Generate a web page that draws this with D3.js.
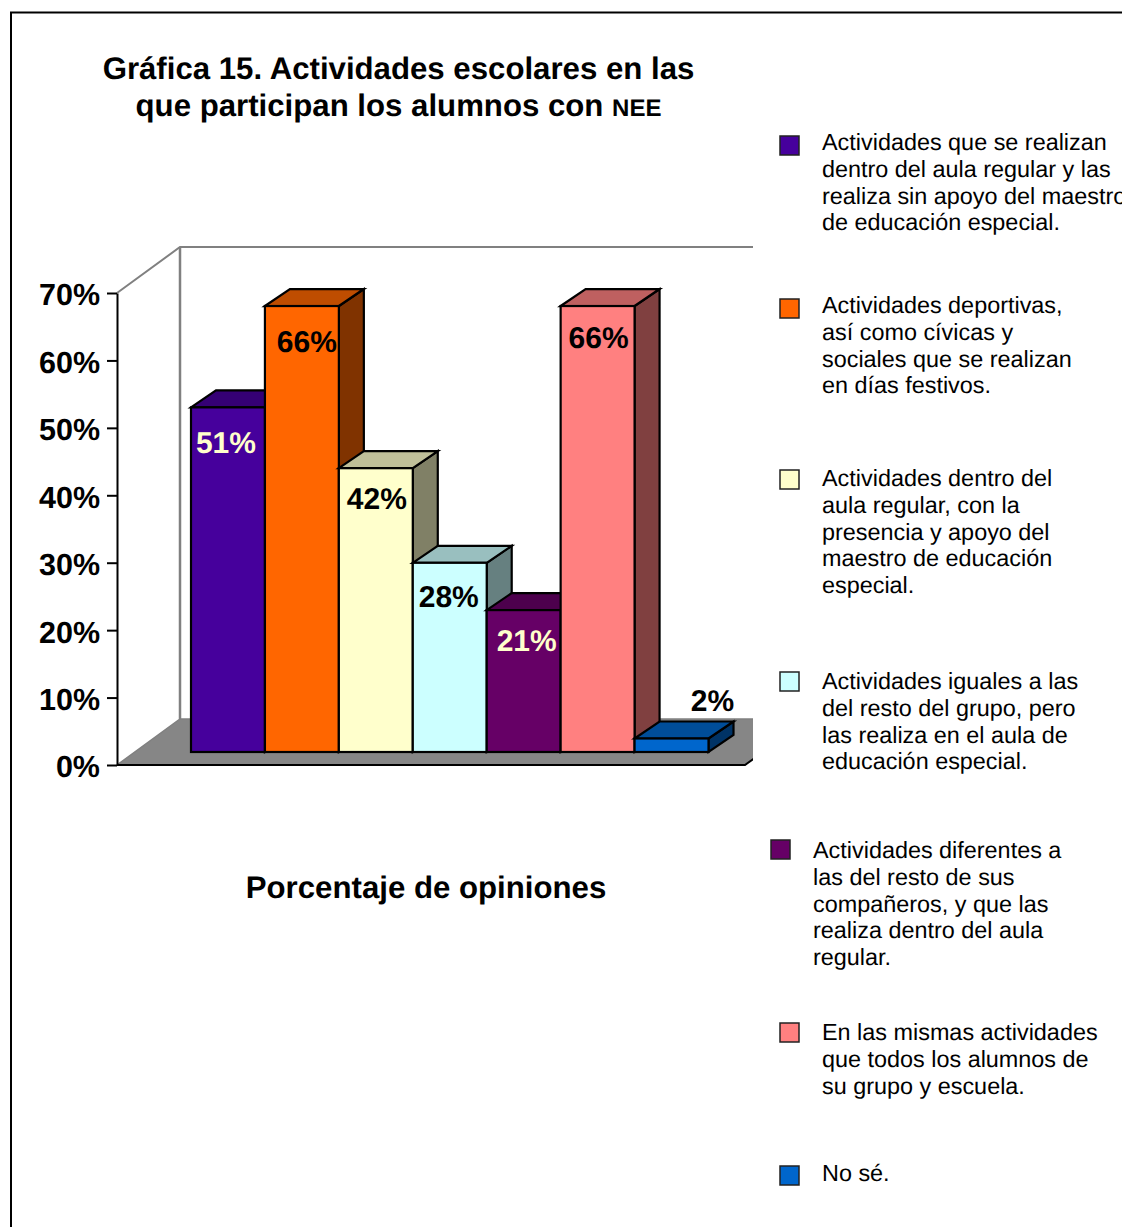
<!DOCTYPE html>
<html lang="es">
<head>
<meta charset="utf-8">
<title>Gráfica 15</title>
<script src="https://cdn.jsdelivr.net/npm/d3@7/dist/d3.min.js"></script>
<style>
html, body { margin: 0; padding: 0; background: #fff; overflow: hidden; }
svg { display: block; font-family: "Liberation Sans", Arial, sans-serif; text-rendering: geometricPrecision; }
</style>
</head>
<body>
<svg id="chart" width="1122" height="1227"></svg>
<script>
// Series
const categories = [
  "Actividades que se realizan dentro del aula regular y las realiza sin apoyo del maestro de educación especial.",
  "Actividades deportivas, así como cívicas y sociales que se realizan en días festivos.",
  "Actividades dentro del aula regular, con la presencia y apoyo del maestro de educación especial.",
  "Actividades iguales a las del resto del grupo, pero las realiza en el aula de educación especial.",
  "Actividades diferentes a las del resto de sus compañeros, y que las realiza dentro del aula regular.",
  "En las mismas actividades que todos los alumnos de su grupo y escuela.",
  "No sé."
];
const values = [51, 66, 42, 28, 21, 66, 2];
const barColors = ["#46009c", "#ff6600", "#ffffcc", "#ccffff", "#660066", "#ff8080", "#0066cc"];
const labelColors = ["#ffffcc", "#000", "#000", "#000", "#ffffcc", "#000", "#000"];
const axisTicks = [0, 10, 20, 30, 40, 50, 60, 70];

// Wrapped legend text, one list of lines per category
const legendLines = [
  ["Actividades que se realizan", "dentro del aula regular y las", "realiza sin apoyo del maestro", "de educación especial."],
  ["Actividades deportivas,", "así como cívicas y", "sociales que se realizan", "en días festivos."],
  ["Actividades dentro del", "aula regular, con la", "presencia y apoyo del", "maestro de educación", "especial."],
  ["Actividades iguales a las", "del resto del grupo, pero", "las realiza en el aula de", "educación especial."],
  ["Actividades diferentes a", "las del resto de sus", "compañeros, y que las", "realiza dentro del aula", "regular."],
  ["En las mismas actividades", "que todos los alumnos de", "su grupo y escuela."],
  ["No sé."]
];

// Layout
const legendX = [780, 780, 780, 780, 771, 780, 780];
const legendTop = [136, 299, 470, 672, 840, 1023, 1166];
const legendBaseline = [150, 313, 486, 689, 858, 1040, 1181];
const labelDx = [-2, 5, 1, -1, 3, 1, 41];
const labelDy = [46, 46, 41, 44, 41, 42, -27];
const depth = { wallX: 63, wallY: -46, barX: 25, barY: -17 };
const plot = { left: 117, right: 753, floor: 765, top: 293, barBase: 752, barSpan: 473 };

const svg = d3.select("#chart");

// Page frame, open on the right and bottom edges
svg.append("path")
  .attr("d", d3.line()([[11, 1227], [11, 12.5], [1122, 12.5]]))
  .attr("fill", "none").attr("stroke", "#000").attr("stroke-width", 2);

const y = d3.scaleLinear().domain([0, 70]).range([plot.floor, plot.top]);
const yBar = d3.scaleLinear().domain([0, 70]).range([plot.barBase, plot.barBase - plot.barSpan]);
const x = d3.scaleBand().domain(d3.range(values.length)).range([191, 708.5]).padding(0);

const clip = svg.append("defs").append("clipPath").attr("id", "plot-clip");
clip.append("rect").attr("x", 100).attr("y", 230).attr("width", plot.right - 100).attr("height", 560);

const scene = svg.append("g").attr("clip-path", "url(#plot-clip)");
const wx = plot.left + depth.wallX;
const wTop = plot.top + depth.wallY;
const wBottom = plot.floor + depth.wallY;
const floorEnd = 745;

// Floor of the 3D box
scene.append("path")
  .attr("d", d3.line()([[plot.left, plot.floor], [wx, wBottom], [floorEnd + depth.wallX, wBottom], [floorEnd, plot.floor]]) + "Z")
  .attr("fill", "#868686");
scene.append("path")
  .attr("d", d3.line()([[plot.left, plot.floor], [wx, wBottom], [plot.right, wBottom]]))
  .attr("fill", "none").attr("stroke", "#808080").attr("stroke-width", 1.5);
scene.append("path")
  .attr("d", d3.line()([[plot.left, plot.floor], [floorEnd, plot.floor], [floorEnd + depth.wallX, wBottom]]))
  .attr("fill", "none").attr("stroke", "#000").attr("stroke-width", 2);

// Back and side walls
scene.append("path")
  .attr("d", d3.line()([[plot.left, plot.top], [wx, wTop], [plot.right, wTop]]))
  .attr("fill", "none").attr("stroke", "#808080").attr("stroke-width", 2);
scene.append("path")
  .attr("d", d3.line()([[wx, wTop], [wx, wBottom]]))
  .attr("fill", "none").attr("stroke", "#808080").attr("stroke-width", 2.5);

// Bars painted left to right so nearer neighbours cover the side faces
const shade = (c, k) => { const r = d3.rgb(c); return d3.rgb(r.r * k, r.g * k, r.b * k).formatHex(); };
const bars = scene.selectAll("g.bar").data(values).join("g").attr("class", "bar")
  .attr("stroke", "#000").attr("stroke-width", 2.2).attr("stroke-linejoin", "miter");

bars.append("path")
  .attr("d", (d, i) => {
    const x1 = x(i) + x.bandwidth(), t = yBar(d), b = plot.barBase;
    return d3.line()([[x1, t], [x1 + depth.barX, t + depth.barY], [x1 + depth.barX, b + depth.barY], [x1, b]]) + "Z";
  })
  .attr("fill", (d, i) => shade(barColors[i], 0.5));

bars.append("path")
  .attr("d", (d, i) => {
    const x0 = x(i), x1 = x0 + x.bandwidth(), t = yBar(d);
    return d3.line()([[x0, t], [x0 + depth.barX, t + depth.barY], [x1 + depth.barX, t + depth.barY], [x1, t]]) + "Z";
  })
  .attr("fill", (d, i) => shade(barColors[i], 0.75));

bars.append("rect")
  .attr("x", (d, i) => x(i))
  .attr("y", d => yBar(d))
  .attr("width", x.bandwidth())
  .attr("height", d => plot.barBase - yBar(d))
  .attr("fill", (d, i) => barColors[i]);

// Value axis
const axis = svg.append("g")
  .attr("transform", `translate(${plot.left},0)`)
  .call(d3.axisLeft(y).tickValues(axisTicks).tickSize(10).tickSizeOuter(0).tickPadding(7).tickFormat(d => d + "%"));
axis.select(".domain").attr("stroke", "#000").attr("stroke-width", 2);
axis.selectAll(".tick line").attr("stroke", "#000").attr("stroke-width", 2);
axis.selectAll(".tick text")
  .attr("font-family", "'Liberation Sans', Arial, sans-serif")
  .attr("dy", "0.39em")
  .attr("font-size", 30.5).attr("font-weight", "bold").attr("fill", "#000");

// Value labels
svg.append("g").selectAll("text").data(values).join("text")
  .attr("x", (d, i) => x(i) + x.bandwidth() / 2 + labelDx[i])
  .attr("y", (d, i) => yBar(d) + labelDy[i])
  .attr("text-anchor", "middle")
  .attr("font-size", 30).attr("font-weight", "bold")
  .attr("fill", (d, i) => labelColors[i])
  .text(d => d + "%");

// Title
const title = svg.append("g").attr("font-weight", "bold").attr("fill", "#000").attr("text-anchor", "middle");
title.append("text").attr("x", 398.5).attr("y", 79).attr("font-size", 31.2)
  .text("Gráfica 15. Actividades escolares en las");
const line2 = title.append("text").attr("x", 398.5).attr("y", 116).attr("font-size", 31.2);
line2.append("tspan").text("que participan los alumnos con ");
line2.append("tspan").attr("font-size", 24).text("NEE");

svg.append("text").attr("x", 426).attr("y", 898)
  .attr("text-anchor", "middle").attr("font-size", 31.2).attr("font-weight", "bold")
  .text("Porcentaje de opiniones");

// Legend
const legend = svg.append("g").selectAll("g").data(categories).join("g");
legend.append("rect")
  .attr("x", (d, i) => legendX[i]).attr("y", (d, i) => legendTop[i])
  .attr("width", 19).attr("height", 19)
  .attr("fill", (d, i) => barColors[i])
  .attr("stroke", "#222").attr("stroke-width", 1.5);
legend.each(function (d, i) {
  d3.select(this).selectAll("text").data(legendLines[i]).join("text")
    .attr("x", legendX[i] + 42)
    .attr("y", (l, j) => legendBaseline[i] + j * 26.8)
    .attr("font-size", 23.4)
    .attr("fill", "#000")
    .text(l => l);
});
</script>
</body>
</html>
